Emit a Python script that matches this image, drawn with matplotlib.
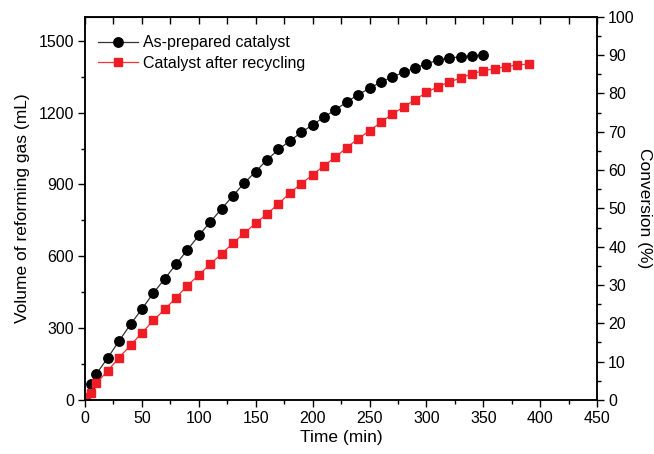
"""
Reforming gas volume vs. time, as-prepared vs. recycled catalyst.
"""
import matplotlib
matplotlib.use("Agg")
import matplotlib.pyplot as plt
from matplotlib.ticker import MultipleLocator

plt.rcParams["font.family"] = ["Liberation Sans", "DejaVu Sans"]

# --- data ---
time_fresh = [5, 10, 20, 30, 40, 50, 60, 70, 80, 90, 100, 110, 120, 130, 140,
              150, 160, 170, 180, 190, 200, 210, 220, 230, 240, 250, 260, 270,
              280, 290, 300, 310, 320, 330, 340, 350]
vol_fresh = [67, 109, 176, 247, 316, 380, 446, 506, 567, 627, 687, 743, 798,
             853, 906, 954, 1003, 1046, 1082, 1117, 1149, 1181, 1212, 1244,
             1275, 1301, 1328, 1348, 1369, 1386, 1404, 1418, 1428, 1433, 1438,
             1439]

time_recycled = [1, 5, 10, 20, 30, 40, 50, 60, 70, 80, 90, 100, 110, 120, 130,
                 140, 150, 160, 170, 180, 190, 200, 210, 220, 230, 240, 250,
                 260, 270, 280, 290, 300, 310, 320, 330, 340, 350, 360, 370,
                 380, 390]
vol_recycled = [11, 31, 70, 122, 177, 229, 280, 332, 378, 427, 478, 522, 567,
                610, 655, 697, 738, 777, 819, 864, 903, 940, 978, 1014, 1054,
                1091, 1124, 1159, 1194, 1223, 1254, 1284, 1308, 1328, 1344,
                1362, 1375, 1383, 1392, 1399, 1403]

fig = plt.figure(figsize=(6.54, 4.54), dpi=100)
ax = fig.add_axes([0.130, 0.119, 0.783, 0.844])

ax.plot(time_fresh, vol_fresh, color="#333333", linewidth=0.9,
        marker="o", markersize=6.8, markerfacecolor="black",
        markeredgecolor="black", label="As-prepared catalyst")
ax.plot(time_recycled, vol_recycled, color="#ff3030", linewidth=0.9,
        marker="s", markersize=5.6, markerfacecolor="#ee1c24",
        markeredgecolor="#ee1c24", label="Catalyst after recycling")

ax.set_xlim(0, 450)
ax.set_ylim(0, 1600)
ax.xaxis.set_major_locator(MultipleLocator(50))
ax.xaxis.set_minor_locator(MultipleLocator(25))
ax.yaxis.set_major_locator(MultipleLocator(300))
ax.yaxis.set_minor_locator(MultipleLocator(150))
ax.set_xlabel("Time (min)", fontsize=12.5, labelpad=3)
ax.set_ylabel("Volume of reforming gas (mL)", fontsize=12.5, labelpad=6)
ax.tick_params(axis="both", which="major", direction="out", length=5,
               width=1, labelsize=11.5, pad=3)
ax.tick_params(axis="both", which="minor", direction="out", length=3, width=1)
for s in ax.spines.values():
    s.set_linewidth(1.1)

# top axis: unlabeled inward ticks every 25 min
top = ax.secondary_xaxis("top")
top.xaxis.set_major_locator(MultipleLocator(25))
top.tick_params(direction="in", length=5, width=1, labeltop=False)

# right axis: conversion
ax2 = ax.twinx()
ax2.set_ylim(0, 100)
ax2.yaxis.set_major_locator(MultipleLocator(10))
ax2.yaxis.set_minor_locator(MultipleLocator(5))
ax2.tick_params(axis="y", which="major", direction="out", length=5, width=1,
                labelsize=11.5, pad=3)
ax2.tick_params(axis="y", which="minor", direction="out", length=3, width=1)
ax2.set_ylabel("Conversion (%)", fontsize=12.5, rotation=270, labelpad=12)
for s in ax2.spines.values():
    s.set_linewidth(1.1)

ax.legend(loc="upper left", bbox_to_anchor=(0.0, 0.985), frameon=False,
          fontsize=11.5, handlelength=2.5, handletextpad=0.3,
          labelspacing=0.35, borderaxespad=0.4)

fig.savefig("out.png", dpi=100)
